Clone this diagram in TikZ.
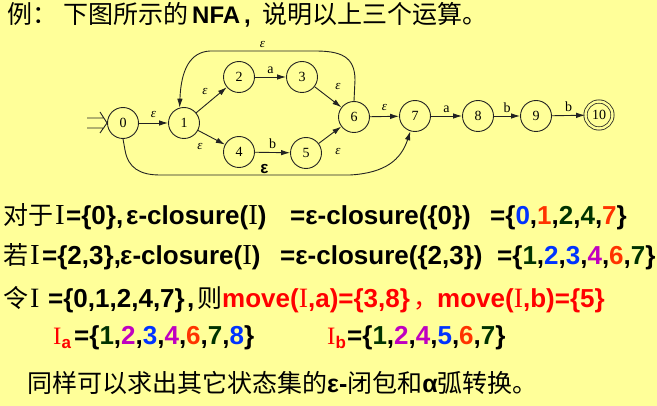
\documentclass[tikz,border=0pt]{standalone}
\usepackage{fontspec}
\setmainfont{Liberation Serif}
\setsansfont{Liberation Sans}
\newfontfamily\cjk{Noto Sans CJK SC}
\usetikzlibrary{arrows.meta}
\definecolor{bgy}{HTML}{FFFF99}
\definecolor{cB}{HTML}{0033FF}
\definecolor{cR}{HTML}{FF3300}
\definecolor{cG}{HTML}{003300}
\definecolor{cM}{HTML}{C000C0}
\definecolor{cRed}{HTML}{FF0000}
\definecolor{lineC}{HTML}{222222}
\newcommand\fs[1]{\fontsize{#1}{#1}\selectfont}
\newcommand\romI[1]{{\rmfamily\mdseries\fs{#1}I}}
\begin{document}
\begin{tikzpicture}[x=1pt,y=-1pt,
  st/.style={circle,draw=lineC,line width=0.9pt,minimum size=31pt,inner sep=0pt,font=\rmfamily\fs{14}},
  fin/.style={st,minimum size=27pt,double=bgy,double distance=2.4pt,line width=0.8pt},
  tr/.style={draw=lineC,line width=0.9pt,-{Latex[length=9pt,width=5.5pt]}},
  elab/.style={font=\rmfamily\itshape\fs{13},inner sep=0pt},
  slab/.style={font=\rmfamily\fs{14},inner sep=0pt},
  txt/.style={anchor=base west,inner sep=0pt,font=\sffamily\bfseries\fs{26}},
  ztxt/.style={anchor=base west,inner sep=0pt,font=\cjk\fs{25}}]
\path[fill=bgy] (0,0) rectangle (657,406);
% title
\node[ztxt] (t1) at (7,24) {例：};
\node[ztxt] (t2) at (63,24) {下图所示的};
\node[txt,font=\sffamily\bfseries\fs{24}] (t3) at (192,24) {NFA};
\node[txt,font=\sffamily\bfseries\fs{24}] (t4) at (244,24) {,};
\node[ztxt] (t5) at (262,24) {说明以上三个运算。};
% diagram
\node[st] (n0) at (123,123) {0};
\node[st] (n1) at (184,123) {1};
\node[st] (n2) at (239,77) {2};
\node[st] (n3) at (302,77) {3};
\node[st] (n4) at (239,152) {4};
\node[st] (n5) at (306,153) {5};
\node[st] (n6) at (354,117) {6};
\node[st] (n7) at (415,116) {7};
\node[st] (n8) at (478,116) {8};
\node[st] (n9) at (536,116) {9};
\node[fin] (n10) at (599,115) {10};
\coordinate (s1) at (87,118);
\coordinate (s2) at (87,128);
\coordinate (s3) at (104,118);
\coordinate (s4) at (104,128);
\coordinate (c1) at (100,112);
\coordinate (c2) at (100,133);
\draw[draw=lineC,line width=0.9pt] (s1) -- (s3) (s2) -- (s4) (c1) -- (n0.west) -- (c2);
\draw[tr] (n0) -- node[elab,above=5pt] (e01) {ε} (n1);
\draw[tr] (n1) -- (n2);
\node[elab] (e12) at (205,92) {ε};
\draw[tr] (n1) -- (n4);
\node[elab] (e14) at (200,147) {ε};
\draw[tr] (n2) -- node[slab,above=3pt] (e23) {a} (n3);
\draw[tr] (n4) -- node[slab,above=3pt] (e45) {b} (n5);
\draw[tr] (n3) -- (n6);
\node[elab] (e36) at (338,87) {ε};
\draw[tr] (n5) -- (n6);
\node[elab] (e56) at (338,152) {ε};
\draw[tr] (n6) -- node[elab,above=5pt] (e67) {ε} (n7);
\draw[tr] (n7) -- node[slab,above=3pt] (e78) {a} (n8);
\draw[tr] (n8) -- node[slab,above=3pt] (e89) {b} (n9);
\draw[tr] (n9) -- node[slab,above=3pt] (e910) {b} (n10);
\draw[tr] (n6.north) -- (355,80) .. controls (355,56) and (340,51) .. (315,51)
  -- node[elab,above=3pt] (e61) {ε} (210,51) .. controls (190,52) and (181,70) .. (n1.106);
\draw[tr] (n0.south) -- (125,150) .. controls (128,168) and (140,175) .. (160,175)
  -- node[pos=0.55,font=\sffamily\bfseries\fs{17},inner sep=0pt,above=1pt] (e07) {ε} (350,175)
  .. controls (385,173) and (401,160) .. (n7.253);
% line 2
\node[ztxt] (a1) at (3,225) {对于};
\node[txt] (a2) at (55,225) {\romI{29}};
\node[txt] (a3) at (66,225) {=\{0\},};
\node[txt] (a4) at (126,225) {ε-closure(\romI{29})};
\node[txt] (a5) at (290,225) {=ε-closure(\{0\})};
\node[txt] (a6) at (490,225) {=\{{\color{cB}0},{\color{cR}1},{\color{cG}2},{\color{cG}4},{\color{cR}7}\}};
% line 3
\node[ztxt] (b1) at (3,265) {若};
\node[txt] (b2) at (30,265) {\romI{29}};
\node[txt] (b3) at (42,265) {=\{2,3\},};
\node[txt] (b4) at (120,265) {ε-closure(\romI{29})};
\node[txt] (b5) at (280,265) {=ε-closure(\{2,3\})};
\node[txt] (b6) at (497,265) {=\{{\color{cG}1},{\color{cB}2},{\color{cB}3},{\color{cM}4},{\color{cR}6},{\color{cG}7}\}};
% line 4
\node[ztxt] (d1) at (3,308) {令};
\node[txt] (d2) at (30,308) {\romI{28}};
\node[txt] (d3) at (48,308) {=\{0,1,2,4,7\}};
\node[txt] (d4) at (187,308) {,};
\node[ztxt] (d5) at (197,308) {则};
\node[txt,text=cRed] (d6) at (222,308) {move(\romI{28},a)=\{3,8\}};
\node[ztxt,text=cRed] (d7) at (413,308) {，};
\node[txt,text=cRed] (d8) at (437,308) {move(\romI{28},b)=\{5\}};
% line 5
\node[txt,text=cRed] (f1) at (53,345) {\romI{25}\raisebox{-4pt}{\fs{17}a}};
\node[txt] (f2) at (74,345) {=\{{\color{cG}1},{\color{cM}2},{\color{cB}3},{\color{cM}4},{\color{cR}6},{\color{cG}7},{\color{cB}8}\}};
\node[txt,text=cRed] (g1) at (327,345) {\romI{25}\raisebox{-4pt}{\fs{17}b}};
\node[txt] (g2) at (347,345) {=\{{\color{cG}1},{\color{cM}2},{\color{cM}4},{\color{cB}5},{\color{cR}6},{\color{cG}7}\}};
% line 6
\node[ztxt] (h1) at (27,393) {同样可以求出其它状态集的{\sffamily\bfseries ε-}闭包和{\sffamily\bfseries α}弧转换。};
\end{tikzpicture}
\end{document}
